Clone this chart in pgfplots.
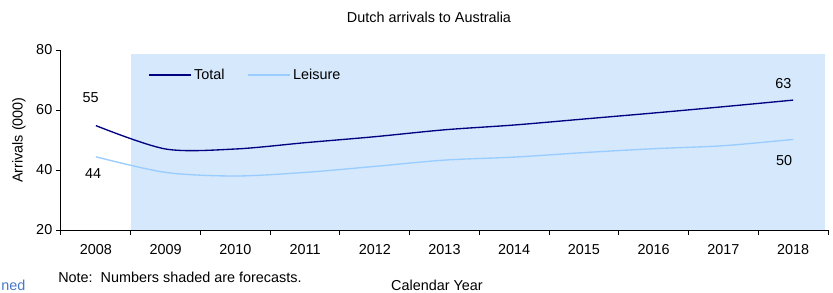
\documentclass[border=0pt]{standalone}
\usepackage{fontspec}
\setmainfont{Liberation Sans}
\usepackage{pgfplots}
\pgfplotsset{compat=1.18}
\definecolor{navyT}{RGB}{0,0,128}
\definecolor{leis}{RGB}{153,204,255}
\definecolor{shadeC}{RGB}{214,232,252}
\definecolor{noteblue}{RGB}{70,120,200}
\begin{document}
\fontsize{10.8}{12}\selectfont
\begin{tikzpicture}
\useasboundingbox (-45.75pt,-47.25pt) rectangle (579pt,172.5pt);
\begin{axis}[
  at={(0pt,0pt)}, anchor=south west,
  scale only axis, width=575.25pt, height=135pt,
  xmin=-0.5, xmax=10.5, ymin=20, ymax=80,
  axis x line=bottom, axis y line=left, axis line style={-, black, line width=0.75pt},
  axis on top,
  /pgf/number format/assume math mode=true,
  xtick={0,...,10},
  xticklabels={2008,2009,2010,2011,2012,2013,2014,2015,2016,2017,2018},
  minor xtick={-0.5,0.5,...,10.5},
  major x tick style={draw=none},
  minor x tick style={black, line width=0.75pt},
  ytick={20,40,60,80},
  tick align=outside,
  major tick length=3.75pt, minor tick length=3.75pt,
  y tick style={black, line width=0.75pt},
  tick label style={font=\fontsize{10.8}{12}\selectfont},
  xticklabel style={anchor=center, yshift=-10.8pt},
  yticklabel style={anchor=east, xshift=1pt},
  legend style={draw=none, fill=none, at={(0.108,0.861)}, anchor=west,
    font=\fontsize{10.8}{12}\selectfont,
    /tikz/every even column/.append style={column sep=15pt}},
  legend columns=2,
  legend image code/.code={\draw[#1] (0pt,0pt) -- (31.5pt,0pt);},
]
\fill[shadeC] (axis cs:0.5,20) rectangle (axis cs:10.46,78.7);
\addplot[navyT, line width=1pt, smooth] coordinates {
 (0,54.8) (1,47.0) (2,47.0) (3,49.1) (4,51.1) (5,53.4) (6,55.0) (7,57.0) (8,59.0) (9,61.1) (10,63.3)};
\addlegendentry{Total}
\addplot[leis, line width=1pt, smooth] coordinates {
 (0,44.4) (1,39.2) (2,38.0) (3,39.2) (4,41.2) (5,43.3) (6,44.3) (7,45.8) (8,47.1) (9,48.1) (10,50.2)};
\addlegendentry{Leisure}
\node at (axis cs:-0.076,64) {55};
\node at (axis cs:-0.04,38.7) {44};
\node at (axis cs:9.86,68.9) {63};
\node at (axis cs:9.87,43.3) {50};
\end{axis}
\node at (276pt,159.75pt) {Dutch arrivals to Australia};
\node[rotate=90] at (-31.5pt,67.5pt) {Arrivals (000)};
\node[anchor=west, inner sep=0pt] at (-2.25pt,-35.25pt) {Note:\ \ Numbers shaded are forecasts.};
\node at (282pt,-41.25pt) {Calendar Year};
\node[anchor=west, inner sep=0pt, text=noteblue] at (-45pt,-41.5pt) {ned};
\end{tikzpicture}
\end{document}
